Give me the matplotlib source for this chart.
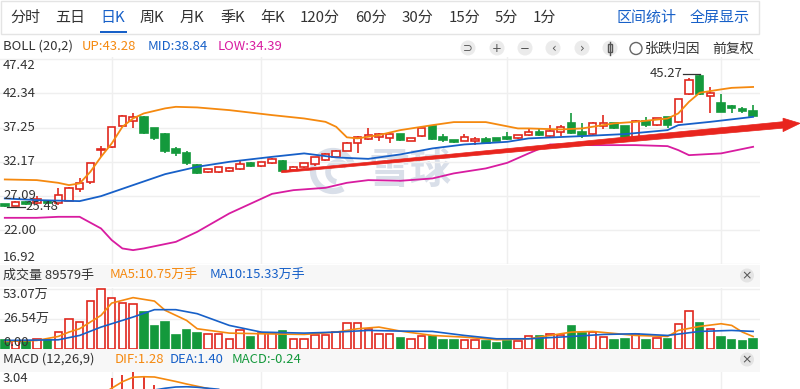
import matplotlib
matplotlib.use('Agg')
import matplotlib.pyplot as plt
from matplotlib.patches import Rectangle, Circle, Polygon, Arc
import numpy as np

plt.rcParams['font.family'] = ['Noto Sans CJK SC', 'DejaVu Sans']

# ---------------- data ----------------
opens = [25.85, 25.62, 26.20, 25.98, 26.36, 25.98, 26.36, 28.11, 29.19, 33.85,
         34.30, 37.46, 38.25, 38.76, 37.12, 36.28, 34.00, 33.41, 31.67, 30.67,
         30.67, 30.82, 31.07, 32.01, 31.52, 31.92, 32.31, 30.93, 31.33, 31.82,
         32.41, 32.90, 33.80, 34.98, 35.49, 35.87, 35.64, 36.28, 35.28, 35.98,
         37.46, 35.87, 35.38, 35.28, 35.28, 35.49, 35.68, 35.87, 35.64, 36.09,
         36.62, 35.98, 36.62, 37.96, 36.62, 36.28, 37.46, 37.87, 37.46, 35.87,
         38.25, 37.61, 38.76, 38.10, 42.17, 44.94, 41.92, 40.93, 40.44, 39.95,
         39.69]
highs = [25.95, 26.30, 26.30, 27.06, 26.45, 28.21, 28.40, 29.69, 32.00, 34.49,
         37.40, 39.10, 39.44, 39.00, 37.25, 36.40, 34.39, 33.75, 31.80, 31.15,
         31.45, 31.35, 32.31, 32.10, 32.15, 32.75, 32.50, 31.50, 32.00, 32.90,
         33.40, 33.90, 35.10, 35.95, 37.12, 36.40, 36.40, 36.35, 35.75, 37.25,
         37.50, 36.28, 35.45, 36.28, 35.79, 35.83, 35.75, 36.62, 36.20, 36.98,
         37.12, 37.61, 37.61, 39.44, 37.96, 38.05, 39.10, 37.95, 37.55, 38.35,
         38.85, 38.70, 38.85, 41.50, 44.60, 45.27, 43.22, 42.17, 40.55, 40.24,
         40.59]
lows = [25.48, 25.55, 25.75, 25.90, 25.85, 25.80, 26.30, 27.70, 28.85, 32.81,
        34.20, 37.30, 37.12, 36.28, 35.34, 33.41, 32.99, 31.67, 30.40, 30.55,
        30.50, 30.70, 31.00, 31.40, 31.45, 31.85, 30.70, 30.85, 31.25, 31.52,
        32.30, 32.80, 33.70, 33.41, 35.40, 35.28, 34.89, 35.30, 35.20, 35.79,
        35.40, 35.13, 35.00, 35.20, 34.64, 34.90, 35.20, 35.40, 35.55, 36.00,
        36.00, 35.90, 35.98, 36.28, 35.64, 36.20, 36.98, 37.10, 35.70, 35.80,
        37.36, 37.50, 37.12, 37.96, 42.10, 42.10, 39.35, 39.50, 39.35, 39.44,
        38.90]
closes = [25.55, 26.22, 25.85, 26.57, 25.98, 27.21, 28.21, 29.04, 31.92, 34.00,
          37.36, 39.00, 38.76, 36.47, 35.64, 33.80, 33.41, 32.01, 30.53, 31.03,
          31.33, 31.18, 31.82, 31.52, 32.07, 32.52, 30.82, 31.42, 31.92, 32.81,
          33.30, 33.80, 34.98, 35.87, 36.13, 36.28, 36.28, 35.38, 35.64, 37.12,
          35.49, 35.38, 35.09, 35.79, 35.49, 34.98, 35.28, 35.49, 36.09, 36.62,
          36.09, 36.77, 37.27, 36.47, 36.13, 37.96, 37.96, 37.21, 35.87, 38.25,
          37.61, 38.61, 37.61, 41.43, 44.30, 42.17, 42.32, 39.59, 40.10, 39.74,
          38.99]
volumes = [7.2, 6.5, 7.0, 8.1, 7.2, 14.7, 26.1, 23.4, 42.5, 53.07,
           45.6, 41.1, 39.6, 32.7, 20.1, 23.4, 11.7, 16.8, 13.8, 12.6,
           12.6, 8.1, 16.5, 10.2, 13.8, 13.8, 15.6, 8.1, 8.1, 11.7,
           11.7, 14.7, 23.1, 23.1, 17.1, 13.2, 12.6, 9.3, 8.1, 11.1,
           11.1, 7.2, 7.2, 7.2, 7.2, 6.6, 5.1, 6.6, 6.6, 11.1,
           11.1, 13.2, 12.3, 19.8, 13.8, 14.7, 10.2, 7.2, 8.1, 12.6,
           7.2, 9.3, 8.1, 22.2, 33.5, 23.1, 17.7, 10.2, 7.2, 6.3,
           8.96]

up_idx = [0, 3, 5, 6, 7, 8, 9, 10, 11, 12, 13, 15, 16, 18, 21, 25, 28, 30, 31, 32, 33,
          35, 37, 40, 42, 45, 48, 49, 52, 54, 57, 59, 62, 63, 64, 65, 67, 68, 70]
up_val = [29.54, 29.44, 29.04, 28.70, 28.95, 30.67, 32.90, 34.89, 37.36, 38.61, 39.35,
          40.10, 40.33, 40.24, 39.84, 39.10, 38.60, 38.10, 37.36, 35.80, 35.64,
          36.13, 36.87, 37.61, 38.06, 38.06, 37.12, 37.12, 36.97, 37.12, 37.87,
          38.10, 38.60, 39.35, 41.07, 42.42, 42.92, 43.15, 43.28]
mid_idx = [0, 3, 7, 9, 12, 15, 18, 21, 25, 28, 31, 34, 37, 40, 43, 47, 49, 54, 58,
           62, 63, 66, 70]
mid_val = [26.72, 26.47, 26.32, 27.06, 28.70, 30.33, 31.42, 32.16, 32.90, 33.41,
           32.81, 32.60, 33.26, 34.15, 34.74, 35.13, 35.64, 35.98, 36.28, 36.87,
           37.61, 38.10, 38.84]
low_idx = [0, 3, 5, 7, 9, 10, 11, 12, 13, 16, 18, 21, 25, 27, 30, 32, 34, 37, 40,
           42, 45, 47, 49, 51, 55, 59, 62, 63, 64, 67, 70]
low_val = [23.84, 23.84, 23.99, 23.99, 22.26, 20.53, 19.29, 19.04, 19.29, 20.27,
           21.76, 24.49, 27.40, 27.95, 28.30, 29.04, 29.44, 29.34, 29.69, 30.44,
           31.18, 32.01, 33.41, 34.74, 34.64, 34.64, 34.49, 33.90, 33.15, 33.41,
           34.39]

ma5_idx = [0, 3, 5, 6, 7, 9, 10, 12, 14, 15, 17, 18, 21, 24, 28, 31, 33, 35, 37,
           40, 43, 46, 49, 53, 55, 59, 62, 63, 65, 67, 68, 69, 70]
ma5_val = [6.3, 7.2, 10.8, 14.7, 17.7, 29.7, 40.7, 45.6, 42.5, 34.2, 25.2, 17.7,
           13.8, 13.2, 12.6, 14.7, 17.7, 19.2, 15.6, 11.7, 10.2, 7.8, 8.7, 14.7,
           15.3, 11.7, 10.8, 16.2, 19.8, 22.2, 20.7, 14.7, 10.75]
ma10_idx = [0, 5, 7, 9, 12, 14, 16, 18, 21, 24, 28, 31, 34, 37, 40, 43, 46, 49,
            53, 56, 59, 62, 65, 68, 70]
ma10_val = [7.2, 7.8, 11.7, 19.2, 28.2, 34.8, 34.8, 31.2, 20.7, 14.7, 13.8, 14.7,
            16.2, 15.6, 15.3, 11.7, 8.7, 8.7, 10.8, 12.6, 13.2, 11.7, 15.3, 16.2,
            15.33]

macd_idx = [8, 9, 10, 11, 12, 13, 14, 15, 16]
macd_val = [1.3, 1.6, 2.56, 2.8, 3.0, 2.64, 2.0, 1.44, 0.9]
dif_idx = [8, 9, 10, 11, 12, 13, 14, 15, 16, 17, 18, 19, 20]
dif_val = [0.8, 1.2, 1.74, 2.26, 2.62, 2.66, 2.64, 2.46, 2.28, 2.08, 1.9, 1.72, 1.5]
dea_idx = [12, 13, 14, 15, 16, 17, 18, 19, 20]
dea_val = [1.2, 1.4, 1.6, 1.74, 1.84, 1.86, 1.82, 1.74, 1.66]

price_ticks = [47.42, 42.34, 37.25, 32.17, 27.09, 22.00, 16.92]
vol_ticks = [53.07, 26.54, 0.00]
month_idx = [10, 24, 47, 67]
max_idx, min_idx = 65, 0

tabs = ['分时', '五日', '日K', '周K', '月K', '季K', '年K', '120分', '60分',
        '30分', '15分', '5分', '1分']
tab_x = [10, 55, 100, 140, 180, 220, 260, 300, 355, 402, 449, 495, 533]

# trend arrow (index, price)
arrow_start = (25.9, 30.69)
arrow_end = (74.4, 37.88)

# ---------------- style ----------------
RED = '#e0281e'
GREEN = '#14993c'
ORANGE = '#f5890f'
BLUE = '#1760c8'
MAG = '#d81ca0'
GRID = '#efefef'
TXT = '#333333'
WM = '#d9dfe9'

W, H = 800, 389
fig = plt.figure(figsize=(8, 3.89), dpi=100)


def rect(x0, y0, x1, y1):
    return [x0 / W, 1 - y1 / H, (x1 - x0) / W, (y1 - y0) / H]


ov = fig.add_axes([0, 0, 1, 1], zorder=0)
ov.set_xlim(0, W)
ov.set_ylim(H, 0)
ov.axis('off')

# top tab bar
ov.add_patch(Rectangle((0.5, 0.5), 758.5, 33, fill=False, edgecolor='#e4e4e4', lw=1))
for t, x in zip(tabs, tab_x):
    ov.text(x, 18, t, fontsize=10.8, color=BLUE if t == '日K' else TXT,
            ha='left', va='center')
ov.add_patch(Rectangle((100, 30.5), 27, 2.6, color=BLUE, lw=0))
ov.text(616, 18, '区间统计', fontsize=10.8, color=BLUE, ha='left', va='center')
ov.text(690, 18, '全屏显示', fontsize=10.8, color=BLUE, ha='left', va='center')

# BOLL header
FS = 9.4
ov.text(3, 46, 'BOLL (20,2)', fontsize=FS, color=TXT, va='center')
ov.text(82, 46, 'UP:43.28', fontsize=FS, color=ORANGE, va='center')
ov.text(148, 46, 'MID:38.84', fontsize=FS, color=BLUE, va='center')
ov.text(218, 46, 'LOW:34.39', fontsize=FS, color=MAG, va='center')

icons = ['⊃', '+', '−', '‹', '›', '']
icon_x = [468, 497, 525, 553, 582, 610]
for g, x in zip(icons, icon_x):
    ov.add_patch(Circle((x, 48), 7.5, color='#ebebeb', lw=0))
    if g:
        ov.text(x, 48, g, fontsize=8.5, color='#555555', ha='center', va='center',
                family=['DejaVu Sans'])
ov.add_patch(Rectangle((608, 44), 4, 8, fill=False, edgecolor='#555555', lw=1))
ov.plot([610, 610], [41.5, 54.5], color='#555555', lw=1)
ov.add_patch(Circle((636, 48.5), 6, facecolor='white', edgecolor='#666666', lw=1))
ov.text(645, 48.5, '张跌归因', fontsize=10, color=TXT, va='center')
ov.text(712, 48.5, '前复权', fontsize=10, color=TXT, va='center')

# panel header bands
ov.add_patch(Rectangle((0, 265), 760, 22, color='#f7f7f7', lw=0))
ov.add_patch(Rectangle((0, 349), 760, 23, color='#f7f7f7', lw=0))
ov.text(3, 275.5, '成交量 89579手', fontsize=FS, color=TXT, va='center')
ov.text(110, 275.5, 'MA5:10.75万手', fontsize=FS, color=ORANGE, va='center')
ov.text(210, 275.5, 'MA10:15.33万手', fontsize=FS, color=BLUE, va='center')
ov.text(3, 359.5, 'MACD (12,26,9)', fontsize=FS, color=TXT, va='center')
ov.text(115, 359.5, 'DIF:1.28', fontsize=FS, color=ORANGE, va='center')
ov.text(170, 359.5, 'DEA:1.40', fontsize=FS, color=BLUE, va='center')
ov.text(232, 359.5, 'MACD:-0.24', fontsize=FS, color=GREEN, va='center')
for yy in (275.5, 359.5):
    ov.add_patch(Circle((747, yy), 7, color='#e4e4e4', lw=0))
    ov.text(747, yy, '×', fontsize=9, color='#555555', ha='center', va='center',
            family=['DejaVu Sans'])

# watermark
ov.add_patch(Arc((333, 171), 40, 40, theta1=60, theta2=340, edgecolor=WM, lw=4.5))
ov.add_patch(Arc((338, 172), 20, 20, theta1=100, theta2=330, edgecolor=WM, lw=4))
ov.text(410, 171, '雪球', fontsize=30, color=WM, ha='center', va='center',
        fontweight='bold')

n = len(opens)
idx = np.arange(n)
XL = (-4.8 / 10.69, (760 - 4.8) / 10.69)

# ---------------- price panel ----------------
ax = fig.add_axes(rect(0, 57, 760, 264.4), zorder=2)
ax.patch.set_alpha(0)
ax.set_xlim(*XL)
ax.set_ylim(16.92, 47.42 + 2.1 / 6.732)
for s in ax.spines.values():
    s.set_visible(False)
ax.set_xticks([])
ax.set_yticks([])
for p in price_ticks:
    ax.axhline(p, color=GRID, lw=1, zorder=0)
for m in month_idx:
    ax.axvline(m, color=GRID, lw=1, zorder=0)
tr = ax.get_yaxis_transform()
for k, p in enumerate(price_ticks):
    va = 'top' if k == 0 else ('bottom' if k == len(price_ticks) - 1 else 'center')
    ax.text(0.004, p, f'{p:.2f}', transform=tr, fontsize=FS, color=TXT, va=va,
            ha='left', zorder=6)

bw = 0.7
for i in idx:
    o, h, l, c = opens[i], highs[i], lows[i], closes[i]
    up = c >= o
    col = RED if up else GREEN
    top, bot = max(o, c), min(o, c)
    ax.vlines(i, top, h, color=col, lw=1.2, zorder=3)
    ax.vlines(i, l, bot, color=col, lw=1.2, zorder=3)
    ax.add_patch(Rectangle((i - bw / 2, bot), bw, max(top - bot, 0.03),
                           facecolor='white' if up else col, edgecolor=col,
                           lw=1.2, zorder=3))

ax.plot(up_idx, up_val, color=ORANGE, lw=1.3, zorder=4)
ax.plot(mid_idx, mid_val, color=BLUE, lw=1.3, zorder=4)
ax.plot(low_idx, low_val, color=MAG, lw=1.3, zorder=4)

# max / min markers
ax.plot([max_idx - 1.6, max_idx], [highs[max_idx]] * 2, color=TXT, lw=0.9, zorder=5)
ax.text(max_idx - 1.6, highs[max_idx], f'{highs[max_idx]:.2f}', fontsize=FS,
        color=TXT, ha='right', va='center', zorder=6)
ax.plot([min_idx + 0.2, min_idx + 1.9], [lows[min_idx]] * 2, color=TXT, lw=0.9, zorder=5)
ax.text(min_idx + 1.9, lows[min_idx], f'{lows[min_idx]:.2f}', fontsize=FS,
        color=TXT, ha='left', va='center', zorder=6)

# red trend arrow
(x0, y0), (x1, y1) = arrow_start, arrow_end
xb = x1 - 1.6
yb = y0 + (y1 - y0) * (xb - x0) / (x1 - x0)
poly = Polygon([(x0, y0 + 0.15), (xb, yb + 0.48), (xb, yb + 1.0), (x1, y1),
                (xb, yb - 1.0), (xb, yb - 0.48), (x0, y0 - 0.15)],
               closed=True, facecolor='#e8251e', edgecolor='#e8251e', lw=0.5,
               zorder=8, clip_on=False)
ax.add_patch(poly)

# ---------------- volume panel ----------------
vx = fig.add_axes(rect(0, 287.5, 760, 348.5), zorder=2)
vx.patch.set_alpha(0)
vx.set_xlim(*XL)
vx.set_ylim(0, 53.07 * 61.0 / 59.2)
for s in vx.spines.values():
    s.set_visible(False)
vx.set_xticks([])
vx.set_yticks([])
for v in vol_ticks[:2]:
    vx.axhline(v, color=GRID, lw=1, zorder=0)
for m in month_idx:
    vx.axvline(m, color=GRID, lw=1, zorder=0)
for i in idx:
    up = closes[i] >= opens[i]
    col = RED if up else GREEN
    vx.add_patch(Rectangle((i - bw / 2, 0), bw, volumes[i],
                           facecolor='white' if up else col, edgecolor=col,
                           lw=1.2, zorder=3))
vx.plot(ma5_idx, ma5_val, color=ORANGE, lw=1.2, zorder=4)
vx.plot(ma10_idx, ma10_val, color=BLUE, lw=1.2, zorder=4)
vtr = vx.get_yaxis_transform()
vlabels = ['53.07万', '26.54万', '0.00']
for k, (v, lab) in enumerate(zip(vol_ticks, vlabels)):
    va = 'top' if k == 0 else ('bottom' if k == 2 else 'center')
    vx.text(0.004, v, lab, transform=vtr, fontsize=FS, color=TXT, va=va,
            ha='left', zorder=6)

# ---------------- MACD panel ----------------
mx = fig.add_axes(rect(0, 372, 760, 460), zorder=2)
mx.patch.set_alpha(0)
mx.set_xlim(*XL)
mx.set_ylim(3.04 - 88 / 12.5, 3.04)
for s in mx.spines.values():
    s.set_visible(False)
mx.set_xticks([])
mx.set_yticks([])
for m in month_idx:
    mx.axvline(m, color=GRID, lw=1, zorder=0)
mx.vlines(macd_idx, 0, macd_val, color=RED, lw=1.3, zorder=3)
mx.plot(dif_idx, dif_val, color=ORANGE, lw=1.2, zorder=4)
mx.plot(dea_idx, dea_val, color=BLUE, lw=1.2, zorder=4)
mx.text(0.004, 3.04, '3.04', transform=mx.get_yaxis_transform(), fontsize=FS,
        color=TXT, va='top', ha='left', zorder=6)

fig.savefig('out.png', dpi=100)
